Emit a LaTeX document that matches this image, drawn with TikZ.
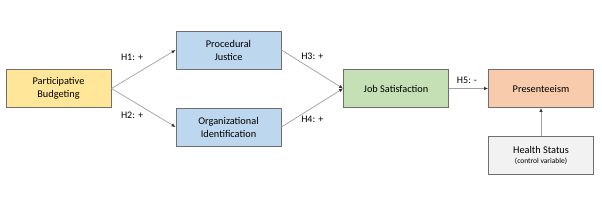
\documentclass[tikz,border=0pt]{standalone}
\usepackage{xcolor}
\usepackage{fontspec}
\setmainfont{Carlito}
\usetikzlibrary{arrows.meta}

\definecolor{pbyellow}{HTML}{FFE699}
\definecolor{medblue}{HTML}{BDD7EE}
\definecolor{jsgreen}{HTML}{C5E0B4}
\definecolor{presorange}{HTML}{F8CBAD}
\definecolor{hsgray}{HTML}{F2F2F2}
\definecolor{boxline}{HTML}{6F6F6F}
\definecolor{arrline}{HTML}{A0A0A0}

\begin{document}
\begin{tikzpicture}[x=1pt, y=-1pt, every node/.style={font=\fontsize{10.3}{13}\selectfont},
  varbox/.style={draw=boxline, line width=0.9pt, minimum width=105pt, minimum height=38pt,
    inner sep=0pt, align=center},
  link/.style={draw=arrline, line width=0.7pt, -{Latex[length=4pt,width=3.5pt,color=black!80]}},
  hyp/.style={font=\fontsize{10}{12}\selectfont, inner sep=0pt}]
  \useasboundingbox (0,0) rectangle (602,214);

  \node[varbox,fill=pbyellow]   (pb)   at (58.5,88.5)  {Participative\\Budgeting};
  \node[varbox,fill=medblue]    (pj)   at (228.5,50)   {Procedural\\Justice};
  \node[varbox,fill=medblue]    (oi)   at (228.5,127)  {Organizational\\Identification};
  \node[varbox,fill=jsgreen]    (js)   at (396,88.5)   {Job Satisfaction};
  \node[varbox,fill=presorange] (pres) at (541,88.5)   {Presenteeism};
  \node[varbox,fill=hsgray]     (hs)   at (541,155)
    {Health Status\\[-3pt]{\fontsize{7.5}{8}\selectfont (control variable)}};

  \draw[link] (pb.east) -- (pj.west) node[hyp,midway,xshift=-11.5pt,yshift=12pt]{H1: +};
  \draw[link] (pb.east) -- (oi.west) node[hyp,midway,xshift=-11.5pt,yshift=-8pt]{H2: +};
  \draw[link] (pj.east) -- (js.west) node[hyp,midway,yshift=13pt]{H3: +};
  \draw[link] (oi.east) -- (js.west) node[hyp,midway,yshift=-12pt]{H4: +};
  \draw[link] (js.east) -- (pres.west) node[hyp,midway,xshift=-1.5pt,yshift=8.5pt]{H5: -};
  \draw[link] (hs.north) -- (pres.south);
\end{tikzpicture}
\end{document}
